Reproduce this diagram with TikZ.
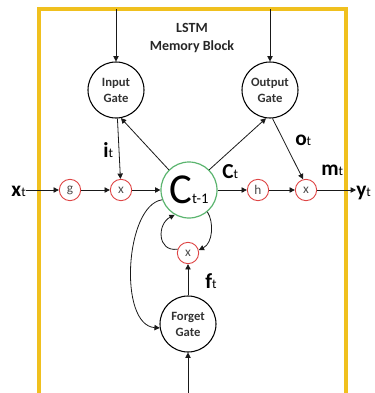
\documentclass[tikz,border=0pt]{standalone}
\usepackage{fontspec}
\setmainfont{Carlito}
\usetikzlibrary{arrows.meta}
\definecolor{frameyellow}{RGB}{240,192,30}
\definecolor{cgreen}{RGB}{90,180,110}
\definecolor{sred}{RGB}{222,70,70}
\newcommand\lsub[1]{{\mdseries\fontsize{10}{11}\selectfont #1}}
\begin{document}
\begin{tikzpicture}[x=0.75pt,y=-0.75pt,
  gate/.style={circle,draw=black,line width=0.8pt,minimum size=42pt,inner sep=0pt,align=center,font=\bfseries\fontsize{9.5}{12}\selectfont,text=black!80},
  op/.style={circle,draw=sred,line width=0.7pt,minimum size=16pt,inner sep=0pt,font=\fontsize{10}{10}\selectfont,text=black!70},
  lbl/.style={font=\bfseries\fontsize{16}{18}\selectfont,inner sep=0pt},
  arr/.style={-{Triangle[length=4pt,width=4pt]},line width=0.6pt,draw=black!90}
]
\useasboundingbox (0,0) rectangle (375,393);
\begin{scope}
\clip (0,0) rectangle (375,393);
\draw[frameyellow,line width=2.3pt] (39,400) -- (39,9) -- (346,9) -- (346,400);

\node[font=\bfseries\fontsize{10.5}{12.8}\selectfont,align=center,text=black!85] (title) at (192,38) {LSTM\\Memory Block};

\node[gate] (ig) at (116,90) {Input\\Gate};
\node[gate] (og) at (270,90) {Output\\Gate};
\node[gate] (fg) at (188,324) {Forget\\Gate};
\node[circle,draw=cgreen,line width=0.9pt,minimum size=42pt,inner sep=0pt] (C) at (189,190) {{\fontsize{32}{32}\selectfont C}{\fontsize{11}{12}\selectfont t-1}};

\node[op] (g) at (70,190) {g};
\node[op] (xi) at (121,190) {x};
\node[op] (h) at (258,190) {h};
\node[op] (xo) at (306,190) {x};
\node[op] (xf) at (188,253) {x};

\node[lbl,anchor=base east] (xt) at (26,196) {x\lsub{t}};
\node[lbl,anchor=base west] (yt) at (356,196) {y\lsub{t}};
\node[lbl,anchor=base west] (it) at (103,157) {i\lsub{t}};
\node[lbl,anchor=base west] (ot) at (295,145) {o\lsub{t}};
\node[lbl,anchor=base west] (mt) at (321,175) {m\lsub{t}};
\node[lbl,anchor=base west] (ct) at (222,178) {C\lsub{t}};
\node[lbl,anchor=base west] (ft) at (205,288) {f\lsub{t}};

\coordinate (ti) at (116,9);
\coordinate (to) at (270,9);
\coordinate (fb) at (188,400);

\draw[arr] (xt.east |- g) -- (g);
\draw[arr] (g) -- (xi);
\draw[arr] (xi) -- (C);
\draw[arr] (C) -- (h);
\draw[arr] (h) -- (xo);
\draw[arr] (xo) -- (yt.west |- xo);

\draw[arr] (ti) -- (ig);
\draw[arr] (to) -- (og);
\draw[arr] (ig) -- (xi);
\draw[arr] (C.135) -- (ig.280);
\draw[arr] (C.45) -- (og.262);
\draw[arr] (og.275) -- (xo.105);

\draw[arr] (fb) -- (fg);
\draw[arr] (fg) -- (xf);
\draw[arr] (C.310) .. controls (214,222) and (213,243) .. (xf.15);
\draw[arr] (xf.160) .. controls (157,252) and (157,224) .. (C.240);
\draw[arr] (C.200) .. controls (125,205) and (118,325) .. (fg.188);
\end{scope}
\end{tikzpicture}
\end{document}
